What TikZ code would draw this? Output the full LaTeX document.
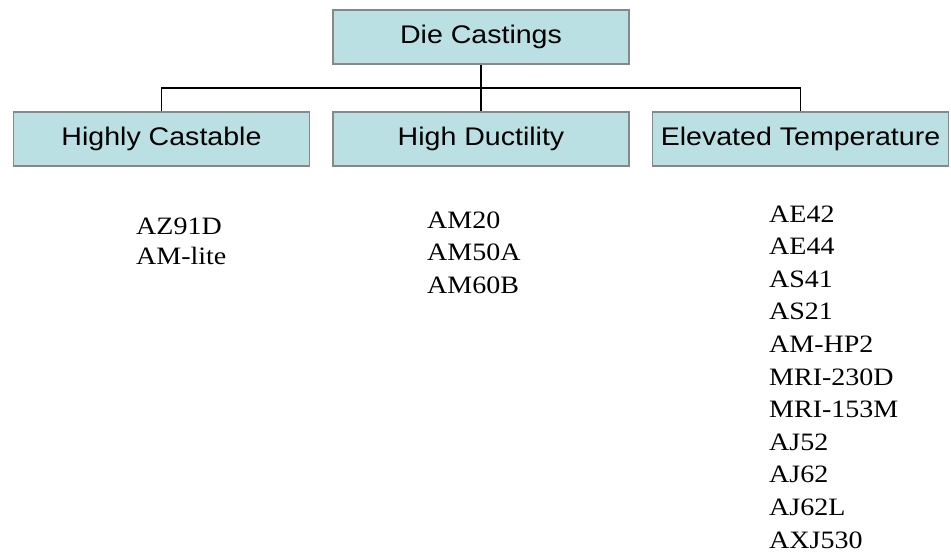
\documentclass[tikz,border=0pt]{standalone}
\usepackage{fontspec}
\usepackage{graphicx}
\setmainfont{Liberation Serif}
\newfontfamily\arialfont{Liberation Sans}
\newcommand{\hsx}[1]{\scalebox{1.12}[1]{#1}}
\definecolor{boxfill}{RGB}{187,224,227}
\definecolor{boxline}{RGB}{136,136,136}
\tikzset{
  catbox/.style={draw=boxline, line width=1.6pt, fill=boxfill, minimum width=296pt, minimum height=54pt, inner sep=0pt,
     font=\arialfont\fontsize{25.5}{30}\selectfont},
  conn/.style={draw=black, line width=1.8pt},
  itemtext/.style={anchor=base west, inner sep=0pt, font=\fontsize{25}{30}\selectfont}
}
\begin{document}
\begin{tikzpicture}[x=1pt,y=-1pt]
\useasboundingbox (0,0) rectangle (951,554);
\node[catbox] (top) at (481,37) {\hsx{Die Castings}};
\node[catbox] (b1) at (161.5,139) {\hsx{Highly Castable}};
\node[catbox] (b2) at (481,139) {\hsx{High Ductility}};
\node[catbox] (b3) at (800.5,139) {\hsx{Elevated Temperature}};
\coordinate (j) at (481,88);
\draw[conn] (top.south) -- (b2.north);
\draw[conn] (b1.north) |- (j) -| (b3.north);
% left column
\foreach \t [count=\i from 0] in {AZ91D,AM-lite}
  \node[itemtext] (l\i) at (136,234+30*\i) {\hsx{\t}};
% middle column
\foreach \t [count=\i from 0] in {AM20,AM50A,AM60B}
  \node[itemtext] (m\i) at (427,228+32.5*\i) {\hsx{\t}};
% right column
\foreach \t [count=\i from 0] in {AE42,AE44,AS41,AS21,AM-HP2,MRI-230D,MRI-153M,AJ52,AJ62,AJ62L,AXJ530}
  \node[itemtext] (r\i) at (769,222+32.6*\i) {\hsx{\t}};
\end{tikzpicture}
\end{document}
